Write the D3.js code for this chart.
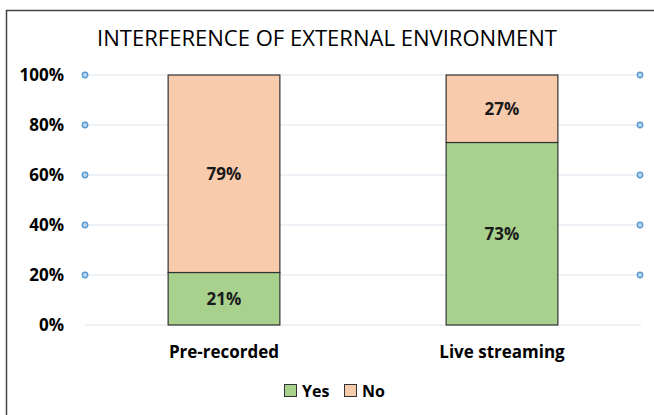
<!DOCTYPE html>
<html><head><meta charset="utf-8">
<script src="https://cdn.jsdelivr.net/npm/d3@7"></script>
<style>body{margin:0;background:#fff}svg{display:block}</style>
</head><body>
<svg id="c" width="654" height="415"></svg>
<script>
const categories = ["Pre-recorded", "Live streaming"];
const seriesNames = ["Yes", "No"];
const yesValues = [0.21, 0.73];
const noValues = [0.79, 0.27];
const tickValues = [0, 0.2, 0.4, 0.6, 0.8, 1.0];
const tickLabels = ["0%", "20%", "40%", "60%", "80%", "100%"];
const colors = ["#A9D18E", "#F8CBAD"];

const svg = d3.select("#c");
const FONT = "'Open Sans', Lato, sans-serif";

// frame
svg.append("rect").attr("x", 6.5).attr("y", 10.5).attr("width", 700).attr("height", 500)
  .attr("fill", "#fff").attr("stroke", "#444").attr("stroke-width", 1.5);

svg.append("text").attr("x", 327).attr("y", 46).attr("text-anchor", "middle")
  .attr("font-family", FONT).attr("font-size", 22).attr("font-weight", 500).attr("fill", "#000")
  .attr("textLength", 460).attr("lengthAdjust", "spacingAndGlyphs")
  .text("INTERFERENCE OF EXTERNAL ENVIRONMENT");

const x = d3.scaleBand().domain(categories).range([85, 641]).paddingInner(0.598).paddingOuter(0.299);
const y = d3.scaleLinear().domain([0, 1]).range([325, 75]);

// gridlines
svg.append("g").selectAll("line").data(tickValues).join("line")
  .attr("x1", 85).attr("x2", 641).attr("y1", d => y(d)).attr("y2", d => y(d))
  .attr("stroke", "#E9EDF3").attr("stroke-width", 1.5);

// y axis labels via d3 axis
const yAxis = svg.append("g").attr("transform", "translate(70,0)")
  .call(d3.axisLeft(y).tickValues(tickValues).tickFormat((d, i) => tickLabels[i]).tickSize(0).tickPadding(6));
yAxis.select(".domain").remove();
yAxis.selectAll("text").attr("font-family", FONT).attr("font-weight", "bold").attr("font-size", 17).attr("fill", "#000");

// dots
const dotTicks = tickValues.filter(d => d > 0);
[85, 640].forEach(cx => {
  svg.append("g").selectAll("circle").data(dotTicks).join("circle")
    .attr("cx", cx).attr("cy", d => y(d)).attr("r", 2.7)
    .attr("fill", "#BDD7EE").attr("stroke", "#5B9BD5").attr("stroke-width", 1.4);
});

const data = categories.map((c, i) => ({cat: c, Yes: yesValues[i], No: noValues[i]}));
const stack = d3.stack().keys(seriesNames)(data);

const g = svg.append("g");
stack.forEach((layer, li) => {
  g.append("g").selectAll("rect").data(layer).join("rect")
    .attr("x", d => x(d.data.cat)).attr("width", x.bandwidth())
    .attr("y", d => y(d[1])).attr("height", d => y(d[0]) - y(d[1]))
    .attr("fill", colors[li]).attr("stroke", "#333").attr("stroke-width", 1.2);
  g.append("g").selectAll("text").data(layer).join("text")
    .attr("x", d => x(d.data.cat) + x.bandwidth() / 2)
    .attr("y", d => (y(d[0]) + y(d[1])) / 2 + 6)
    .attr("text-anchor", "middle").attr("font-family", FONT).attr("font-weight", "bold")
    .attr("font-size", 17).attr("fill", "#1a1a1a")
    .text(d => Math.round((d[1] - d[0]) * 100) + "%");
});

// x axis labels
const xAxis = svg.append("g").attr("transform", "translate(0,325)")
  .call(d3.axisBottom(x).tickSize(0).tickPadding(21));
xAxis.select(".domain").remove();
xAxis.selectAll("text").attr("font-family", FONT).attr("font-weight", "bold").attr("font-size", 17).attr("fill", "#000");

// legend
const legendX = [284, 344];
seriesNames.forEach((s, i) => {
  svg.append("rect").attr("x", legendX[i] + 0.5).attr("y", 384.5).attr("width", 12).attr("height", 12)
    .attr("fill", colors[i]).attr("stroke", "#333").attr("stroke-width", 1);
  svg.append("text").attr("x", legendX[i] + 18).attr("y", 396.5)
    .attr("font-family", FONT).attr("font-weight", "bold").attr("font-size", 16).attr("fill", "#000").text(s);
});
</script>
</body></html>
